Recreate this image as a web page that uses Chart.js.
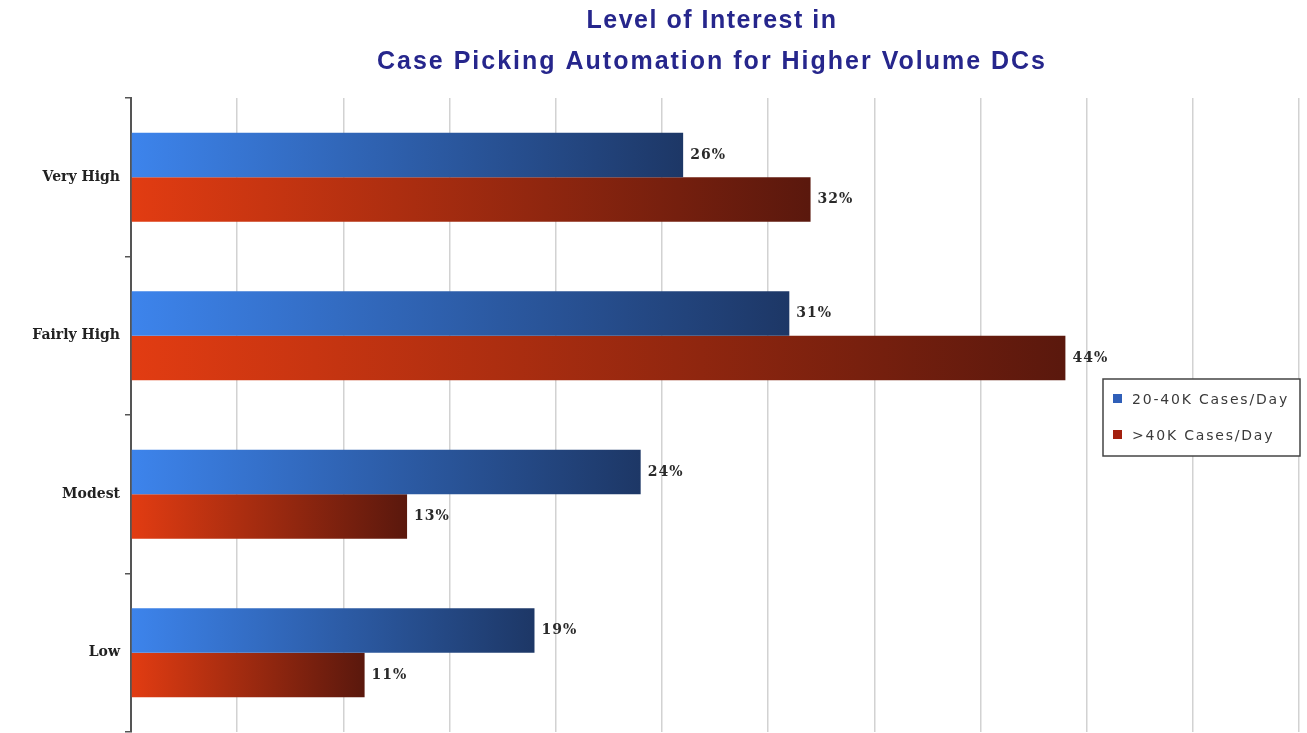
<!DOCTYPE html>
<html>
<head>
<meta charset="utf-8">
<script src="https://cdn.jsdelivr.net/npm/chart.js@4"></script>
<style>
  html, body { margin: 0; padding: 0; background: #fff; }
  #wrap { width: 1307px; height: 733px; }
</style>
</head>
<body>
<div id="wrap"><canvas id="myChart"></canvas></div>
<script>
// data
const categories = ['Very High', 'Fairly High', 'Modest', 'Low'];
const seriesNames = ['20-40K Cases/Day', '>40K Cases/Day'];
const midVolume = [26, 31, 24, 19];
const highVolume = [32, 44, 13, 11];
const xTicks = [0, 5, 10, 15, 20, 25, 30, 35, 40, 45, 50, 55];
const titleLines = ['Level of Interest in', 'Case Picking Automation for Higher Volume DCs'];

// left / right colour of each bar's gradient
const blueStops = ['#3d84ec', '#1d3766'];
const redStops = ['#e23c12', '#5a180d'];
const legendSwatch = ['#2f5fb8', '#a3200f'];

function barGradient(stops) {
  return function (ctx) {
    const chart = ctx.chart;
    if (!chart.chartArea || ctx.raw === undefined) return stops[0];
    const x = chart.scales.x;
    const x0 = x.getPixelForValue(0);
    const x1 = x.getPixelForValue(ctx.raw);
    const g = chart.ctx.createLinearGradient(x0, 0, Math.max(x1, x0 + 1), 0);
    g.addColorStop(0, stops[0]);
    g.addColorStop(1, stops[1]);
    return g;
  };
}

// two-line title, spread out like the original
const spacedTitle = {
  id: 'spacedTitle',
  afterDraw(chart) {
    const c = chart.ctx;
    const widths = [251, 670];
    const ys = [21, 62];
    c.save();
    c.font = 'bold 25px "Liberation Sans", sans-serif';
    c.fillStyle = '#26268c';
    c.textBaseline = 'middle';
    titleLines.forEach((t, i) => {
      c.letterSpacing = '0px';
      const raw = c.measureText(t).width;
      const sp = (widths[i] - raw) / t.length;
      c.letterSpacing = sp + 'px';
      c.fillText(t, 712 - widths[i] / 2, ys[i]);
    });
    c.restore();
  }
};

// value labels next to the bar ends
const valueLabels = {
  id: 'valueLabels',
  afterDatasetsDraw(chart) {
    const c = chart.ctx;
    c.save();
    c.font = 'bold 14px "DejaVu Serif", serif';
    c.fillStyle = '#2a2a2a';
    c.textBaseline = 'middle';
    c.letterSpacing = '1px';
    chart.data.datasets.forEach((ds, i) => {
      chart.getDatasetMeta(i).data.forEach((bar, j) => {
        c.fillText(ds.data[j] + '%', bar.x + 7, bar.y);
      });
    });
    c.restore();
  }
};

// boxed legend sitting over the right side of the plot
const boxLegend = {
  id: 'boxLegend',
  afterDraw(chart) {
    const c = chart.ctx;
    const left = 1103, top = 379, w = 197, h = 77;
    c.save();
    c.fillStyle = '#fff';
    c.fillRect(left, top, w, h);
    c.strokeStyle = '#444';
    c.lineWidth = 1.5;
    c.strokeRect(left, top, w, h);
    c.font = '14px "DejaVu Sans", sans-serif';
    c.letterSpacing = '1.8px';
    c.textBaseline = 'middle';
    chart.data.datasets.forEach((ds, i) => {
      const y = top + 21 + i * 36;
      c.fillStyle = legendSwatch[i];
      c.fillRect(left + 10, y - 6, 9, 9);
      c.fillStyle = '#3a3a3a';
      c.fillText(ds.label, left + 29, y);
    });
    c.restore();
  }
};

const ctx = document.getElementById('myChart').getContext('2d');
const myChart = new Chart(ctx, {
  type: 'bar',
  data: {
    labels: categories,
    datasets: [{
      label: seriesNames[0],
      data: midVolume,
      backgroundColor: barGradient(blueStops)
    }, {
      label: seriesNames[1],
      data: highVolume,
      backgroundColor: barGradient(redStops)
    }]
  },
  options: {
    indexAxis: 'y',
    responsive: true,
    maintainAspectRatio: false,
    animation: false,
    datasets: {
      bar: { barPercentage: 1, categoryPercentage: 0.56 }
    },
    layout: { padding: { left: 0, right: 8, top: 98, bottom: 1 } },
    plugins: {
      legend: { display: false },
      tooltip: { enabled: false },
      title: { display: false }
    },
    scales: {
      x: {
        min: 0,
        max: 55,
        afterBuildTicks(scale) { scale.ticks = xTicks.map(v => ({ value: v })); },
        afterFit(scale) { scale.height = 0; scale.paddingLeft = 0; scale.paddingRight = 0; },
        ticks: { display: false },
        grid: { color: '#d2d2d2', lineWidth: 1.5, drawTicks: false },
        border: { display: false }
      },
      y: {
        afterFit(scale) { scale.width = 131; scale.paddingTop = 0; scale.paddingBottom = 0; },
        ticks: {
          color: '#222',
          padding: 5,
          font: { family: '"DejaVu Serif", serif', size: 14, weight: 'bold' }
        },
        grid: { drawOnChartArea: false, drawTicks: true, tickLength: 6, color: '#555', lineWidth: 1.5, offset: true },
        border: { display: true, color: '#555', width: 2 }
      }
    }
  },
  plugins: [valueLabels, boxLegend, spacedTitle]
});
</script>
</body>
</html>
